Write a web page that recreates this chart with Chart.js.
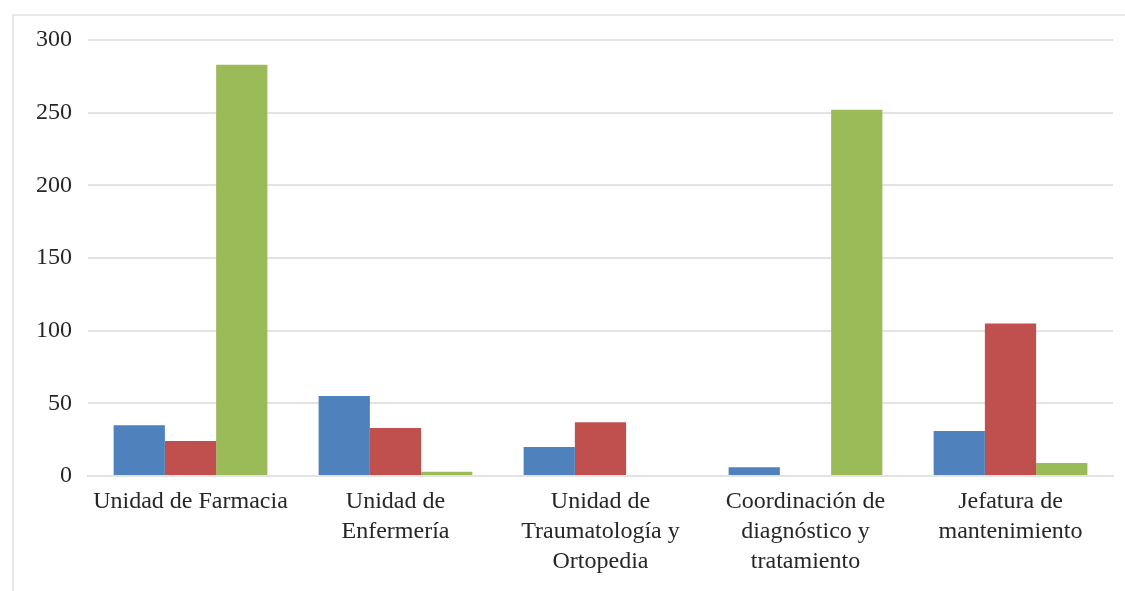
<!DOCTYPE html>
<html>
<head>
<meta charset="utf-8">
<script src="https://cdn.jsdelivr.net/npm/chart.js@4"></script>
<style>
  html, body { margin: 0; padding: 0; background: #ffffff; overflow: hidden; }
  #wrap { position: relative; width: 1125px; height: 591px; overflow: hidden; }
  #frame { position: absolute; left: 12px; top: 14px; width: 1130px; height: 600px; border-left: 2px solid #e8e8e8; border-top: 2px solid #e8e8e8; box-sizing: border-box; }
  canvas { position: absolute; left: 0; top: 0; }
</style>
</head>
<body>
<div id="wrap">
  <div id="frame"></div>
  <canvas id="c" width="1125" height="591"></canvas>
</div>
<script>
const categories = [
  ["Unidad de Farmacia"],
  ["Unidad de", "Enfermería"],
  ["Unidad de", "Traumatología y", "Ortopedia"],
  ["Coordinación de", "diagnóstico y", "tratamiento"],
  ["Jefatura de", "mantenimiento"]
];
const seriesBlue  = [35, 55, 20, 6, 31];
const seriesRed   = [24, 33, 37, 0, 105];
const seriesGreen = [283, 3, 0, 252, 9];
const yTicks = [0, 50, 100, 150, 200, 250, 300];

const fontFamily = "'Liberation Serif', 'Times New Roman', serif";

new Chart(document.getElementById('c'), {
  type: 'bar',
  data: {
    labels: categories,
    datasets: [
      { label: 'Serie 1', data: seriesBlue,  backgroundColor: '#4F81BD' },
      { label: 'Serie 2', data: seriesRed,   backgroundColor: '#C0504D' },
      { label: 'Serie 3', data: seriesGreen, backgroundColor: '#9BBB59' }
    ]
  },
  options: {
    responsive: false,
    animation: false,
    devicePixelRatio: 1,
    layout: { padding: { left: 0, right: 12, top: 40, bottom: 0 } },
    plugins: { legend: { display: false }, tooltip: { enabled: false } },
    datasets: { bar: { categoryPercentage: 0.75, barPercentage: 1.0 } },
    scales: {
      x: {
        grid: { display: false, drawTicks: false },
        border: { display: true, color: '#e3e3e3', width: 2 },
        ticks: { color: '#262626', font: { family: fontFamily, size: 24, lineHeight: 1.25 }, padding: 11, maxRotation: 0, autoSkip: false },
        afterFit: (s) => { s.height = 115; }
      },
      y: {
        min: 0, max: 300,
        afterBuildTicks: (s) => { s.ticks = yTicks.map(v => ({ value: v })); },
        grid: { color: '#e3e3e3', lineWidth: 2, drawTicks: false },
        border: { display: false },
        ticks: { color: '#262626', font: { family: fontFamily, size: 24 }, padding: 16 },
        afterFit: (s) => { s.width = 88; }
      }
    }
  }
});
</script>
</body>
</html>
